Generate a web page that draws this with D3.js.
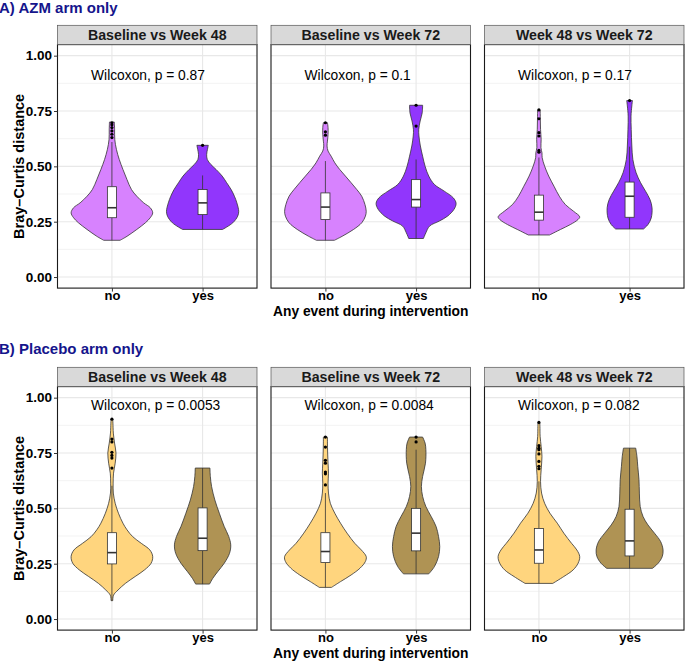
<!DOCTYPE html>
<html><head><meta charset="utf-8">
<script src="https://cdn.jsdelivr.net/npm/d3@7"></script>
<style>body{margin:0;background:#fff}svg{display:block}text{font-family:"Liberation Sans",Arial,Helvetica,sans-serif}</style>
</head><body><svg id="c" width="685" height="661"></svg>
<script>
// ---------- data ----------
const sectionTitles = ["A) AZM arm only", "B) Placebo arm only"];
const panelTitles = ["Baseline vs Week 48", "Baseline vs Week 72", "Week 48 vs Week 72"];
const groups = ["no", "yes"];
const yTicks = [0, 0.25, 0.5, 0.75, 1];
const yMinor = [0.125, 0.375, 0.625, 0.875];
const xAxisTitle = "Any event during intervention";
const yAxisTitle = "Bray\u2013Curtis distance";
const pLabelsA = ["Wilcoxon, p = 0.87", "Wilcoxon, p = 0.1", "Wilcoxon, p = 0.17"];
const pLabelsB = ["Wilcoxon, p = 0.0053", "Wilcoxon, p = 0.0084", "Wilcoxon, p = 0.082"];
const colorsA = ["#D782FE", "#9136FC"];
const colorsB = ["#FFD57E", "#AF9354"];

// violin profiles: [value, relative density]
const azmB48No = [[0.166,0.20],[0.184,0.37],[0.215,0.61],[0.245,0.82],[0.268,0.94],[0.29,1.0],[0.313,0.94],[0.335,0.78],[0.365,0.61],[0.395,0.48],[0.44,0.37],[0.486,0.27],[0.531,0.18],[0.577,0.11],[0.622,0.07],[0.667,0.066],[0.70,0.06]];
const azmB48Yes = [[0.215,0.49],[0.245,0.74],[0.275,0.86],[0.297,0.885],[0.335,0.84],[0.365,0.78],[0.395,0.70],[0.426,0.59],[0.456,0.48],[0.486,0.33],[0.509,0.20],[0.531,0.115],[0.554,0.10],[0.577,0.12],[0.595,0.14]];
const azmB72No = [[0.166,0.22],[0.184,0.41],[0.215,0.69],[0.245,0.89],[0.275,0.98],[0.297,1.0],[0.327,0.97],[0.365,0.89],[0.395,0.77],[0.426,0.63],[0.456,0.49],[0.486,0.35],[0.516,0.23],[0.546,0.14],[0.569,0.065],[0.592,0.04],[0.614,0.05],[0.645,0.065],[0.675,0.065],[0.697,0.05]];
const azmB72Yes = [[0.174,0.18],[0.2,0.24],[0.23,0.33],[0.253,0.57],[0.275,0.77],[0.306,0.93],[0.333,0.98],[0.358,0.91],[0.388,0.69],[0.418,0.45],[0.456,0.31],[0.501,0.22],[0.546,0.16],[0.592,0.105],[0.637,0.07],[0.667,0.065],[0.705,0.10],[0.742,0.15],[0.776,0.16]];
const azmW48No = [[0.19,0.26],[0.215,0.53],[0.237,0.77],[0.26,0.96],[0.272,1.0],[0.297,0.85],[0.327,0.65],[0.365,0.5],[0.41,0.37],[0.456,0.24],[0.501,0.14],[0.539,0.08],[0.561,0.075],[0.584,0.05],[0.622,0.055],[0.667,0.04],[0.712,0.035],[0.755,0.03]];
const azmW48Yes = [[0.217,0.34],[0.237,0.45],[0.267,0.53],[0.313,0.55],[0.35,0.5],[0.388,0.39],[0.426,0.27],[0.471,0.16],[0.531,0.08],[0.592,0.055],[0.667,0.04],[0.727,0.035],[0.773,0.055],[0.797,0.07]];
const plaB48No = [[0.083,0.02],[0.108,0.04],[0.131,0.15],[0.161,0.33],[0.192,0.57],[0.222,0.8],[0.252,0.96],[0.282,1.0],[0.312,0.93],[0.342,0.72],[0.372,0.51],[0.403,0.37],[0.433,0.27],[0.478,0.16],[0.523,0.08],[0.569,0.035],[0.614,0.03],[0.659,0.04],[0.704,0.08],[0.75,0.1],[0.795,0.065],[0.84,0.035],[0.885,0.025],[0.903,0.02]];
const plaB48Yes = [[0.158,0.17],[0.184,0.25],[0.214,0.37],[0.252,0.53],[0.297,0.66],[0.335,0.69],[0.373,0.64],[0.418,0.53],[0.478,0.41],[0.538,0.3],[0.599,0.22],[0.644,0.19],[0.682,0.18]];
const plaB72No = [[0.143,0.15],[0.169,0.37],[0.199,0.63],[0.23,0.85],[0.26,0.98],[0.282,1.0],[0.312,0.88],[0.342,0.72],[0.388,0.53],[0.433,0.37],[0.478,0.23],[0.523,0.12],[0.569,0.075],[0.614,0.065],[0.659,0.075],[0.704,0.065],[0.75,0.055],[0.795,0.05],[0.822,0.05]];
const plaB72Yes = [[0.204,0.31],[0.237,0.45],[0.282,0.55],[0.327,0.58],[0.373,0.55],[0.418,0.49],[0.463,0.37],[0.508,0.24],[0.554,0.16],[0.599,0.13],[0.644,0.16],[0.704,0.23],[0.765,0.24],[0.795,0.22],[0.822,0.16]];
const plaW48No = [[0.161,0.34],[0.192,0.61],[0.222,0.84],[0.252,0.96],[0.282,1.0],[0.312,0.93],[0.342,0.8],[0.388,0.61],[0.433,0.45],[0.478,0.27],[0.523,0.14],[0.569,0.065],[0.622,0.04],[0.674,0.055],[0.735,0.075],[0.78,0.055],[0.825,0.03],[0.87,0.025],[0.888,0.02]];
const plaW48Yes = [[0.229,0.56],[0.252,0.7],[0.282,0.8],[0.312,0.82],[0.35,0.76],[0.388,0.61],[0.425,0.45],[0.463,0.33],[0.508,0.26],[0.569,0.24],[0.629,0.23],[0.69,0.2],[0.735,0.18],[0.772,0.15]];

// box stats: [whisker low, q1, median, q3, whisker high]
const boxA = [
  [[0.166,0.268,0.313,0.408,0.61],[0.215,0.282,0.335,0.395,0.459]],
  [[0.166,0.26,0.316,0.38,0.524],[0.174,0.316,0.35,0.44,0.531]],
  [[0.19,0.257,0.293,0.37,0.54],[0.217,0.27,0.365,0.429,0.589]]
];
const boxB = [
  [[0.083,0.249,0.3,0.39,0.602],[0.158,0.309,0.365,0.502,0.682]],
  [[0.143,0.255,0.305,0.39,0.569],[0.204,0.308,0.388,0.5,0.765]],
  [[0.161,0.252,0.312,0.409,0.622],[0.229,0.285,0.353,0.496,0.772]]
];
// outliers
const outA = [
  [[0.63,0.645,0.66,0.675,0.688,0.697],[0.595]],
  [[0.641,0.656,0.697],[0.682,0.776]],
  [[0.564,0.572,0.637,0.652,0.715,0.755],[0.797]]
];
const outB = [
  [[0.682,0.727,0.739,0.753,0.80,0.813,0.903],[]],
  [[0.606,0.656,0.664,0.704,0.717,0.777,0.822],[0.80,0.822]],
  [[0.679,0.69,0.712,0.746,0.765,0.772,0.783,0.888],[]]
];
const violinsA = [[azmB48No, azmB48Yes],[azmB72No, azmB72Yes],[azmW48No, azmW48Yes]];
const violinsB = [[plaB48No, plaB48Yes],[plaB72No, plaB72Yes],[plaW48No, plaW48Yes]];

// ---------- layout ----------
const svg = d3.select("#c");
const panelX0 = [57.5, 271, 484.5];
const panelW = 199.5;
const stripH = 19.3;
const plotH = 243.5;
const rows = [
  {title: sectionTitles[0], titleY: 13, stripTop: 25.3, violins: violinsA, boxes: boxA, outs: outA, labels: pLabelsA, labelY: 0.914, colors: colorsA},
  {title: sectionTitles[1], titleY: 354, stripTop: 367.3, violins: violinsB, boxes: boxB, outs: outB, labels: pLabelsB, labelY: 0.968, colors: colorsB}
];
const ink = "#333333";

rows.forEach((row, ri) => {
  const g = svg.append("g");
  g.append("text").attr("x", -1).attr("y", row.titleY).text(row.title)
    .attr("font-size", 15).attr("font-weight", "bold").attr("fill", "#15158C");

  const top = row.stripTop + stripH, bottom = top + plotH;
  const y = d3.scaleLinear().domain([-0.05, 1.05]).range([bottom, top]);

  panelTitles.forEach((pt, pi) => {
    const x0 = panelX0[pi];
    const x = d3.scaleLinear().domain([0.4, 2.6]).range([x0, x0 + panelW]);
    const step = x(2) - x(1);
    const pg = g.append("g");
    pg.append("rect").attr("x", x0).attr("y", top).attr("width", panelW).attr("height", plotH).attr("fill", "#fff");
    pg.selectAll(".mn").data(yMinor).join("line")
      .attr("x1", x0).attr("x2", x0 + panelW).attr("y1", d => y(d)).attr("y2", d => y(d))
      .attr("stroke", "#F0F0F0").attr("stroke-width", 0.8);
    pg.selectAll(".mj").data(yTicks).join("line")
      .attr("x1", x0).attr("x2", x0 + panelW).attr("y1", d => y(d)).attr("y2", d => y(d))
      .attr("stroke", "#E8E8E8").attr("stroke-width", 1.1);
    pg.selectAll(".mx").data(groups).join("line")
      .attr("x1", (d, i) => x(i + 1)).attr("x2", (d, i) => x(i + 1)).attr("y1", top).attr("y2", bottom)
      .attr("stroke", "#E8E8E8").attr("stroke-width", 1.1);

    groups.forEach((gname, gi) => {
      const prof = row.violins[pi][gi];
      const cx = x(gi + 1), half = 0.45 * step;
      const area = d3.area()
        .y(d => y(d[0]))
        .x0(d => cx - d[1] * half)
        .x1(d => cx + d[1] * half)
        .curve(d3.curveCatmullRom.alpha(0.5));
      pg.append("path").datum(prof).attr("d", area)
        .attr("fill", row.colors[gi]).attr("stroke", ink).attr("stroke-width", 0.8);
      const b = row.boxes[pi][gi];
      const bw = 0.1 * step;
      pg.append("line").attr("x1", cx).attr("x2", cx).attr("y1", y(b[0])).attr("y2", y(b[1])).attr("stroke", ink).attr("stroke-width", 0.8);
      pg.append("line").attr("x1", cx).attr("x2", cx).attr("y1", y(b[3])).attr("y2", y(b[4])).attr("stroke", ink).attr("stroke-width", 0.8);
      pg.append("rect").attr("x", cx - bw / 2).attr("width", bw).attr("y", y(b[3])).attr("height", y(b[1]) - y(b[3]))
        .attr("fill", "#fff").attr("stroke", ink).attr("stroke-width", 0.8);
      pg.append("line").attr("x1", cx - bw / 2).attr("x2", cx + bw / 2).attr("y1", y(b[2])).attr("y2", y(b[2]))
        .attr("stroke", ink).attr("stroke-width", 1.6);
      pg.selectAll(".o" + gi).data(row.outs[pi][gi]).join("circle")
        .attr("cx", cx).attr("cy", d => y(d)).attr("r", 1.6).attr("fill", "#000");
    });

    pg.append("text").attr("x", x(0.77)).attr("y", y(row.labelY)).attr("dy", "0.35em")
      .attr("font-size", 13.8).attr("fill", "#000").text(row.labels[pi]);

    pg.append("rect").attr("x", x0).attr("y", top).attr("width", panelW).attr("height", plotH)
      .attr("fill", "none").attr("stroke", "#1a1a1a").attr("stroke-width", 1.1);
    pg.append("rect").attr("x", x0).attr("y", row.stripTop).attr("width", panelW).attr("height", stripH)
      .attr("fill", "#D9D9D9").attr("stroke", "#555").attr("stroke-width", 0.7);
    pg.append("text").attr("x", x0 + panelW / 2).attr("y", row.stripTop + stripH / 2).attr("dy", "0.36em")
      .attr("text-anchor", "middle").attr("font-size", 14.2).attr("font-weight", "bold").attr("fill", "#1A1A1A").text(pt);

    const xa = pg.append("g").attr("transform", `translate(0,${bottom})`)
      .call(d3.axisBottom(x).tickValues([1, 2]).tickFormat((d) => groups[d - 1]).tickSize(3.5).tickSizeOuter(0));
    xa.select(".domain").remove();
    xa.selectAll("line").attr("stroke", ink);
    xa.selectAll("text").attr("font-size", 13).attr("font-weight", "bold").attr("fill", "#000")
      .attr("font-family", "Liberation Sans, Arial, sans-serif").attr("dy", null).attr("y", 12.3);

    if (pi === 0) {
      const ya = pg.append("g").attr("transform", `translate(${x0},0)`)
        .call(d3.axisLeft(y).tickValues(yTicks).tickFormat(d3.format(".2f")).tickSize(3.5).tickSizeOuter(0));
      ya.select(".domain").remove();
      ya.selectAll("line").attr("stroke", ink);
      ya.selectAll("text").attr("font-size", 13.5).attr("font-weight", "bold").attr("fill", "#000")
        .attr("font-family", "Liberation Sans, Arial, sans-serif").attr("x", -5.5);
      g.append("text").attr("transform", `translate(23.5,${(top + bottom) / 2}) rotate(-90)`)
        .attr("text-anchor", "middle").attr("font-size", 14.5).attr("font-weight", "bold").attr("fill", "#000").text(yAxisTitle);
    }
  });
  g.append("text").attr("x", panelX0[1] + panelW / 2).attr("y", bottom + 28)
    .attr("text-anchor", "middle").attr("font-size", 13.8).attr("font-weight", "bold").attr("fill", "#000").text(xAxisTitle);
});
</script></body></html>
